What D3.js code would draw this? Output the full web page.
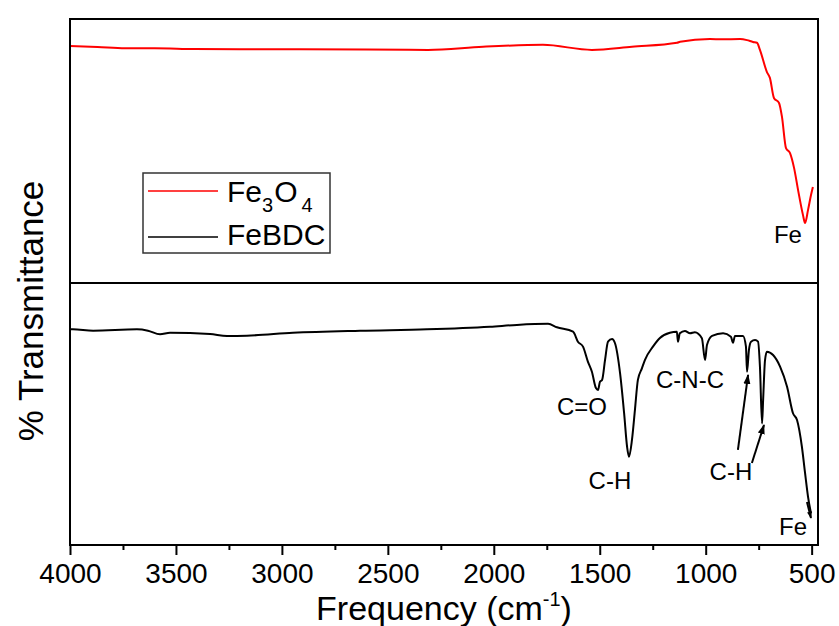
<!DOCTYPE html>
<html>
<head>
<meta charset="utf-8">
<script src="https://cdn.jsdelivr.net/npm/d3@7"></script>
<style>
  html, body { margin: 0; padding: 0; background: #fff; }
  svg { display: block; font-family: "Liberation Sans", Arial, sans-serif; }
</style>
</head>
<body>
<svg id="chart" width="839" height="626"></svg>
<script>
// FTIR spectra: wavenumber (cm^-1) and % transmittance (relative units per panel)
const fe3o4Freq = [4000, 3870, 3740, 3600, 3415, 3200, 2915, 2600, 2310, 2051, 1768, 1537, 1348, 1135, 1121, 980, 923, 838, 805, 777, 758, 744, 711, 697, 678, 654, 640, 621, 602, 583, 564, 541, 531, 517, 503, 494];
const fe3o4T    = [89.8, 89.4, 88.9, 88.9, 88.6, 88.5, 88.5, 88.4, 88.3, 89.5, 90.2, 88.3, 89.5, 91.0, 91.4, 92.4, 92.3, 92.4, 92.0, 91.3, 91.0, 88.3, 79.9, 77.7, 70.1, 68.2, 62.9, 51.1, 49.2, 43.6, 35.2, 25.8, 22.7, 27.7, 33.3, 36.4];

const febdcFreq = [4000, 3986, 3891, 3684, 3632, 3575, 3528, 3339, 3259, 3165, 2948, 2631, 2315, 2018, 1891, 1744, 1702, 1626, 1603, 1579, 1556, 1537, 1518, 1508, 1499, 1489, 1475, 1461, 1442, 1428, 1404, 1385, 1371, 1362, 1348, 1334, 1320, 1301, 1287, 1249, 1216, 1169, 1136, 1131, 1122, 1098, 1074, 1051, 1018, 1003, 994, 970, 918, 881, 871, 862, 824, 810, 805, 796, 786, 767, 753, 744, 734, 729, 720, 711, 682, 649, 616, 588, 569, 546, 531, 517, 503];
const febdcT    = [82.3, 82.3, 81.8, 82.3, 81.8, 80.4, 81.0, 80.5, 79.8, 79.9, 81.0, 81.8, 82.3, 83.3, 84.0, 84.4, 83.1, 81.4, 77.6, 75.7, 70.0, 66.1, 59.9, 59.2, 62.3, 63.0, 70.6, 77.6, 78.6, 77.0, 65.5, 50.3, 37.5, 33.7, 40.1, 51.5, 63.0, 67.4, 70.6, 75.7, 79.0, 81.0, 81.4, 77.6, 80.8, 81.7, 80.8, 81.2, 78.9, 70.6, 76.3, 79.8, 80.8, 79.5, 77.2, 79.8, 79.8, 75.7, 66.1, 74.4, 77.6, 78.2, 77.6, 68.1, 46.4, 55.3, 70.6, 73.8, 72.5, 68.1, 60.4, 50.3, 47.7, 37.5, 27.4, 18.4, 12.1];

const majorTicks = [4000, 3500, 3000, 2500, 2000, 1500, 1000, 500];
const minorTicks = [3750, 3250, 2750, 2250, 1750, 1250, 750];

// Band assignments: label text, position (cm^-1, %T) and panel
const bandLabels = ["Fe", "C=O", "C-H", "C-N-C", "C-H", "Fe"];
const bandFreq   = [612, 1584, 1452, 1074, 881, 588];
const bandT      = [15.2, 49.6, 21.4, 59.9, 24.8, 3.8];
const bandPanel  = ["top", "bottom", "bottom", "bottom", "bottom", "bottom"];

// Pointer arrows in the FeBDC panel: [freq, %T] start and end
const arrowFrom = [[848, 36.3], [782, 31.3], [522, 16.4]];
const arrowTo   = [[800, 64.9], [725, 45.8], [503, 10.3]];
const arrowHead = [5, 5, 3.5];

const svg = d3.select("#chart");
const plotL = 70, plotR = 818, plotT = 19, plotMid = 283, plotB = 545;

const x = d3.scaleLinear().domain([4000, 470]).range([plotL, plotR]);
const yTop = d3.scaleLinear().domain([0, 100]).range([plotMid, plotT]);
const yBot = d3.scaleLinear().domain([0, 100]).range([plotB, plotMid]);

const defs = svg.append("defs");
arrowHead.forEach((s, i) => {
  defs.append("marker")
    .attr("id", "head" + i)
    .attr("viewBox", "0 0 10 10")
    .attr("refX", 9).attr("refY", 5)
    .attr("markerWidth", s).attr("markerHeight", s)
    .attr("markerUnits", "strokeWidth")
    .attr("orient", "auto")
    .append("path").attr("d", "M0,1.5 L10,5 L0,8.5 Z").attr("fill", "#000");
});

// spectra
const lineTop = d3.line().x((d, i) => x(fe3o4Freq[i])).y(d => yTop(d)).curve(d3.curveMonotoneX);
const lineBot = d3.line().x((d, i) => x(febdcFreq[i])).y(d => yBot(d)).curve(d3.curveMonotoneX);

svg.append("path").datum(fe3o4T).attr("d", lineTop)
  .attr("fill", "none").attr("stroke", "#ff0000").attr("stroke-width", 2).attr("stroke-linejoin", "round");
svg.append("path").datum(febdcT).attr("d", lineBot)
  .attr("fill", "none").attr("stroke", "#000").attr("stroke-width", 2).attr("stroke-linejoin", "round");

// panel frames
svg.append("rect").attr("x", plotL).attr("y", plotT).attr("width", plotR - plotL).attr("height", plotMid - plotT)
  .attr("fill", "none").attr("stroke", "#000").attr("stroke-width", 2);
svg.append("rect").attr("x", plotL).attr("y", plotMid).attr("width", plotR - plotL).attr("height", plotB - plotMid)
  .attr("fill", "none").attr("stroke", "#000").attr("stroke-width", 2);

// x axis
const axMajor = svg.append("g").attr("transform", `translate(0,${plotB})`)
  .call(d3.axisBottom(x).tickValues(majorTicks).tickSize(10).tickPadding(8).tickFormat(d3.format("d")));
const axMinor = svg.append("g").attr("transform", `translate(0,${plotB})`)
  .call(d3.axisBottom(x).tickValues(minorTicks).tickSize(5).tickFormat(""));
[axMajor, axMinor].forEach(g => {
  g.select(".domain").remove();
  g.selectAll(".tick line").attr("stroke", "#000").attr("stroke-width", 2);
});
axMajor.selectAll(".tick text")
  .attr("font-size", 28).attr("fill", "#000")
  .attr("font-family", "'Liberation Sans', Arial, sans-serif");

// axis titles
const xt = svg.append("text").attr("x", (plotL + plotR) / 2).attr("y", 620)
  .attr("text-anchor", "middle").attr("font-size", 34).attr("fill", "#000");
xt.append("tspan").text("Frequency (cm");
xt.append("tspan").attr("font-size", 20).attr("dy", -14).text("-1");
xt.append("tspan").attr("dy", 14).text(")");

svg.append("text").attr("transform", "translate(43,311) rotate(-90)")
  .attr("text-anchor", "middle").attr("font-size", 35).attr("fill", "#000")
  .text("% Transmittance");

// legend
const lg = svg.append("g");
lg.append("rect").attr("x", 143).attr("y", 173).attr("width", 187).attr("height", 80)
  .attr("fill", "#fff").attr("stroke", "#333").attr("stroke-width", 1.5);
lg.append("line").attr("x1", 148).attr("x2", 218).attr("y1", 191).attr("y2", 191)
  .attr("stroke", "#ff0000").attr("stroke-width", 1.5);
lg.append("line").attr("x1", 148).attr("x2", 218).attr("y1", 237).attr("y2", 237)
  .attr("stroke", "#000").attr("stroke-width", 1.5);
const l1 = lg.append("text").attr("x", 227).attr("y", 202).attr("font-size", 30).attr("fill", "#000");
l1.append("tspan").text("Fe");
l1.append("tspan").attr("font-size", 20).attr("dy", 10).text("3");
l1.append("tspan").attr("dy", -10).attr("dx", 1).text("O");
l1.append("tspan").attr("font-size", 20).attr("dy", 10).attr("dx", 4).text("4");
lg.append("text").attr("x", 227).attr("y", 245).attr("font-size", 30).attr("fill", "#000").text("FeBDC");

// band labels
bandLabels.forEach((t, i) => {
  const ys = bandPanel[i] === "top" ? yTop : yBot;
  svg.append("text").attr("x", x(bandFreq[i])).attr("y", ys(bandT[i]))
    .attr("text-anchor", "middle").attr("font-size", 24).attr("fill", "#000").text(t);
});

// arrows
arrowFrom.forEach((a, i) => {
  const b = arrowTo[i];
  svg.append("line")
    .attr("x1", x(a[0])).attr("y1", yBot(a[1]))
    .attr("x2", x(b[0])).attr("y2", yBot(b[1]))
    .attr("stroke", "#000").attr("stroke-width", 2)
    .attr("marker-end", `url(#head${i})`);
});
</script>
</body>
</html>
